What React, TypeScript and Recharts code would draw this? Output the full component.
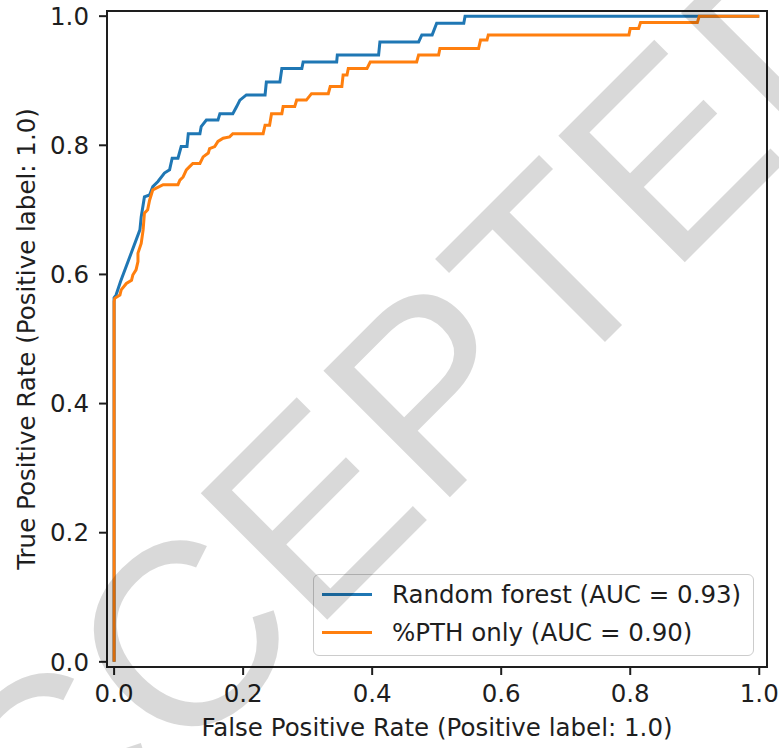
import React from 'react';
import { LineChart, Line, XAxis, YAxis, ReferenceArea, Label } from 'recharts';

// ROC points (false positive rate / true positive rate)
const rfFpr = [0, 0, 0.003, 0.01, 0.04, 0.042, 0.047, 0.055, 0.06, 0.068, 0.078, 0.086, 0.09, 0.099, 0.104, 0.113, 0.115, 0.133, 0.135, 0.143, 0.161, 0.164, 0.184, 0.19, 0.195, 0.205, 0.234, 0.236, 0.257, 0.26, 0.291, 0.293, 0.345, 0.346, 0.41, 0.412, 0.472, 0.477, 0.493, 0.5, 0.542, 0.544, 1];
const rfTpr = [0, 0.564, 0.568, 0.589, 0.669, 0.689, 0.72, 0.723, 0.736, 0.744, 0.757, 0.762, 0.78, 0.78, 0.798, 0.798, 0.818, 0.818, 0.829, 0.839, 0.839, 0.849, 0.849, 0.86, 0.87, 0.878, 0.878, 0.898, 0.898, 0.919, 0.919, 0.929, 0.929, 0.94, 0.94, 0.96, 0.96, 0.971, 0.971, 0.989, 0.989, 1, 1];

const pthFpr = [0, 0, 0.001, 0.009, 0.011, 0.019, 0.027, 0.029, 0.034, 0.037, 0.037, 0.042, 0.045, 0.047, 0.052, 0.055, 0.06, 0.076, 0.099, 0.102, 0.107, 0.112, 0.117, 0.122, 0.133, 0.138, 0.146, 0.148, 0.156, 0.161, 0.169, 0.179, 0.184, 0.231, 0.234, 0.241, 0.244, 0.26, 0.262, 0.28, 0.283, 0.298, 0.306, 0.332, 0.335, 0.353, 0.355, 0.361, 0.363, 0.392, 0.397, 0.469, 0.472, 0.503, 0.505, 0.565, 0.568, 0.578, 0.58, 0.798, 0.8, 0.813, 0.816, 0.904, 0.907, 1];
const pthTpr = [0, 0.558, 0.563, 0.568, 0.576, 0.586, 0.591, 0.599, 0.607, 0.62, 0.633, 0.648, 0.669, 0.695, 0.7, 0.715, 0.731, 0.739, 0.739, 0.746, 0.751, 0.762, 0.767, 0.772, 0.772, 0.782, 0.788, 0.795, 0.798, 0.806, 0.811, 0.813, 0.818, 0.818, 0.831, 0.831, 0.849, 0.849, 0.86, 0.86, 0.87, 0.87, 0.88, 0.88, 0.891, 0.891, 0.909, 0.909, 0.919, 0.919, 0.929, 0.929, 0.94, 0.94, 0.95, 0.95, 0.963, 0.963, 0.971, 0.971, 0.981, 0.981, 0.99, 0.99, 1, 1];

const ticks = [0, 0.2, 0.4, 0.6, 0.8, 1.0];
const series = [
  { name: 'Random forest (AUC = 0.93)', color: '#1f77b4', fpr: rfFpr, tpr: rfTpr },
  { name: '%PTH only (AUC = 0.90)', color: '#ff7f0e', fpr: pthFpr, tpr: pthTpr },
];

const FONT = '"DejaVu Sans", sans-serif';
const INK = '#1e1e1e';
const FS = 24.5;
const X_DOMAIN = [-0.011, 1.012];
const Y_DOMAIN = [-0.008, 1.008];

export default function App() {
  const tickStyle = { fill: INK, fontSize: FS, fontFamily: FONT };

  return (
    <div style={{ position: 'absolute', left: 0, top: 0, width: 779, height: 748, background: '#fff', fontFamily: FONT }}>
      <LineChart width={779} height={748} margin={{ top: 11, right: 12, left: 0, bottom: 0 }}>
        <XAxis
          type="number"
          dataKey="fpr"
          domain={X_DOMAIN}
          ticks={ticks}
          allowDataOverflow
          height={81}
          axisLine={false}
          tickLine={{ stroke: INK, strokeWidth: 2 }}
          tickSize={8}
          tickMargin={10}
          tick={tickStyle}
          tickFormatter={(v: number) => v.toFixed(1)}
        >
          <Label
            content={({ viewBox }: any) => (
              <text x={viewBox.x + viewBox.width / 2} y={736} textAnchor="middle" fill={INK} fontSize={FS} fontFamily={FONT}>
                False Positive Rate (Positive label: 1.0)
              </text>
            )}
          />
        </XAxis>
        <YAxis
          type="number"
          domain={Y_DOMAIN}
          ticks={ticks}
          allowDataOverflow
          width={107}
          axisLine={false}
          tickLine={{ stroke: INK, strokeWidth: 2 }}
          tickSize={8}
          tickMargin={10}
          tick={tickStyle}
          tickFormatter={(v: number) => v.toFixed(1)}
        >
          <Label
            content={({ viewBox }: any) => {
              const cy = viewBox.y + viewBox.height / 2;
              return (
                <text x={35} y={cy} transform={`rotate(-90, 35, ${cy})`} textAnchor="middle" fill={INK} fontSize={FS} fontFamily={FONT}>
                  True Positive Rate (Positive label: 1.0)
                </text>
              );
            }}
          />
        </YAxis>
        {series.map((s) => (
          <Line
            key={s.name}
            data={s.fpr.map((x, i) => ({ fpr: x, tpr: s.tpr[i] }))}
            dataKey="tpr"
            type="linear"
            stroke={s.color}
            strokeWidth={3}
            dot={false}
            activeDot={false}
            isAnimationActive={false}
          />
        ))}
        <ReferenceArea
          x1={X_DOMAIN[0]}
          x2={X_DOMAIN[1]}
          y1={Y_DOMAIN[0]}
          y2={Y_DOMAIN[1]}
          fill="none"
          stroke={INK}
          strokeWidth={2}
          ifOverflow="visible"
        />
      </LineChart>

      <div
        style={{
          position: 'absolute',
          left: 313,
          top: 574,
          width: 441,
          height: 82,
          boxSizing: 'border-box',
          border: '1.5px solid #cccccc',
          borderRadius: 6,
          background: 'rgba(255,255,255,0.8)',
        }}
      >
        {series.map((s, i) => (
          <div key={s.name} style={{ position: 'absolute', left: 8, top: 4 + i * 38, height: 30, display: 'flex', alignItems: 'center' }}>
            <div style={{ width: 50, height: 3, background: s.color }} />
            <span style={{ marginLeft: 20, fontSize: FS, color: INK, fontFamily: FONT, whiteSpace: 'nowrap' }}>{s.name}</span>
          </div>
        ))}
      </div>

      <svg width={779} height={748} style={{ position: 'absolute', left: 0, top: 0, pointerEvents: 'none' }}>
        <text
          x={-76}
          y={1023}
          transform="rotate(-45, -76, 1023)"
          fontFamily='"Liberation Sans", Arial, sans-serif'
          fontSize={260}
          fill="#000"
          fillOpacity={0.15}
        >
          ACCEPTED
        </text>
      </svg>
    </div>
  );
}
